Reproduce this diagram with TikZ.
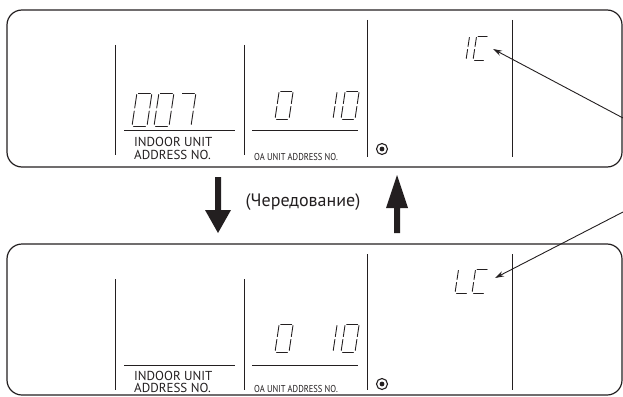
\documentclass[tikz,border=0pt]{standalone}
\usepackage{fontspec}
\setmainfont{PT Sans}
\usetikzlibrary{arrows.meta}
\definecolor{ink}{HTML}{231F20}
\newcommand\Gp{1.5}
\newcommand\sdig[6]{\begin{scope}[shift={(#1,#2)},xslant=#5]\def\W{#3}\def\H{#4}#6\end{scope}}
\newcommand\SgA{\draw[seg] (\Gp,-\H) -- (\W-\Gp,-\H);}
\newcommand\SgB{\draw[seg] (\W,-\H+\Gp) -- (\W,-\H/2-\Gp);}
\newcommand\SgC{\draw[seg] (\W,-\H/2+\Gp) -- (\W,-\Gp);}
\newcommand\SgD{\draw[seg] (\Gp,0) -- (\W-\Gp,0);}
\newcommand\SgE{\draw[seg] (0,-\Gp) -- (0,-\H/2+\Gp);}
\newcommand\SgF{\draw[seg] (0,-\H/2-\Gp) -- (0,-\H+\Gp);}
\newcommand\DZero{\SgA\SgB\SgC\SgD\SgE\SgF}
\newcommand\DSeven{\SgA\SgB\SgC}
\newcommand\DOne{\SgB\SgC}
\newcommand\DC{\SgA\SgD\SgE\SgF}
\newcommand\DL{\SgD\SgE\SgF}
\tikzset{
  panel/.style={draw=ink,line width=1.2pt,rounded corners=15pt},
  divider/.style={draw=ink,line width=1.0pt},
  seg/.style={draw=ink,line width=0.9pt,line cap=round},
  lbl/.style={anchor=base west,inner sep=0pt,font=\fontsize{13}{13}\selectfont,text=ink},
  oalbl/.style={anchor=base west,inner sep=0pt,font=\fontsize{10}{10}\selectfont,text=ink,xscale=0.85},
  ptr/.style={draw=ink,line width=0.9pt,-{Stealth[length=9pt,width=5.5pt]}},
  bigarrow/.style={fill=ink,draw=none},
}
\begin{document}
\begin{tikzpicture}[x=1pt,y=-1pt]
\useasboundingbox (0,0) rectangle (623,396);
% ---------- top panel ----------
\draw[panel] (7,10) rectangle (622,167);
\draw[divider] (115,45) -- (115,155);
\draw[divider] (244,45) -- (244,155);
\draw[divider] (367,20) -- (367,157);
\draw[divider] (512,20) -- (512,157);
\draw[divider] (124,130) -- (235,130);
\draw[divider] (252,130) -- (358,130);
\node[lbl] (inA1) at (134,146) {INDOOR UNIT};
\node[lbl] (inA2) at (134,159) {ADDRESS NO.};
\node[oalbl] (oaA) at (254,160) {OA UNIT ADDRESS NO.};
\draw[ink,line width=1.1pt] (382,149) circle (5.5);
\fill[ink] (382,149) circle (2.4);
\sdig{132}{126}{15}{33}{0.15}{\DZero}
\sdig{154}{126}{15}{33}{0.15}{\DZero}
\sdig{176}{126}{15}{33}{0.15}{\DSeven}
\sdig{275}{119}{14}{28}{0.15}{\DZero}
\sdig{319}{119}{14}{28}{0.15}{\DOne}
\sdig{341}{119}{14}{28}{0.15}{\DZero}
\sdig{454}{60}{12}{24}{0.15}{\DOne}
\sdig{473}{60}{12}{24}{0.15}{\DC}
% ---------- bottom panel ----------
\draw[panel] (7,244) rectangle (622,395);
\draw[divider] (115,279) -- (115,390);
\draw[divider] (244,279) -- (244,390);
\draw[divider] (367,254) -- (367,390);
\draw[divider] (512,254) -- (512,390);
\draw[divider] (124,365) -- (235,365);
\draw[divider] (252,365) -- (358,365);
\node[lbl] (inB1) at (134,380) {INDOOR UNIT};
\node[lbl] (inB2) at (134,392) {ADDRESS NO.};
\node[oalbl] (oaB) at (254,392) {OA UNIT ADDRESS NO.};
\draw[ink,line width=1.1pt] (382,384) circle (5.5);
\fill[ink] (382,384) circle (2.4);
\sdig{275}{352}{14}{28}{0.15}{\DZero}
\sdig{319}{352}{14}{28}{0.15}{\DOne}
\sdig{341}{352}{14}{28}{0.15}{\DZero}
\sdig{455}{293}{13}{24}{0.15}{\DL}
\sdig{472}{293}{13}{24}{0.15}{\DC}
% ---------- alternation ----------
\fill[bigarrow] (215,177) -- (221,177) -- (221,210) -- (231,210) -- (218,233) -- (205,210) -- (215,210) -- cycle;
\fill[bigarrow] (397,175) -- (408,208) -- (400,208) -- (400,233) -- (394,233) -- (394,208) -- (386,208) -- cycle;
\node[inner sep=0pt,text=ink,font=\fontsize{18}{18}\selectfont] (alt) at (303,202) {(Чередование)};
% ---------- pointers ----------
\coordinate (ic) at (493,49);
\coordinate (lc) at (495,278);
\coordinate (srcA) at (623,118);
\coordinate (srcB) at (623,212);
\draw[ptr] (srcA) -- (ic);
\draw[ptr] (srcB) -- (lc);
\end{tikzpicture}
\end{document}
